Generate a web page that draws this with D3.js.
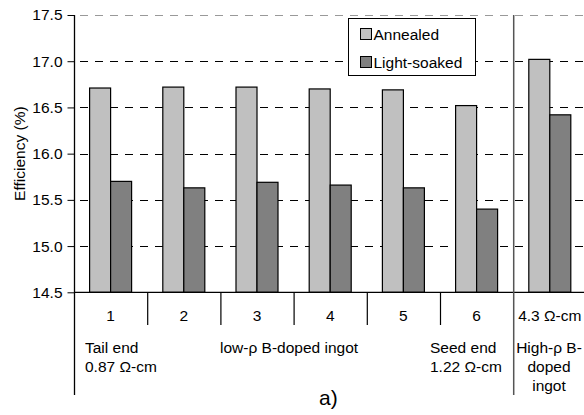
<!DOCTYPE html>
<html>
<head>
<meta charset="utf-8">
<script src="https://cdn.jsdelivr.net/npm/d3@7"></script>
<style>
  body { margin: 0; background: #fff; }
  text { font-family: "Liberation Sans", Arial, sans-serif; fill: #000; }
</style>
</head>
<body>
<div id="chart"></div>
<script>
var categories = ["1", "2", "3", "4", "5", "6", "4.3 Ω-cm"];
var annealed   = [16.71, 16.72, 16.72, 16.70, 16.69, 16.52, 17.02];
var lightSoaked = [15.70, 15.63, 15.69, 15.66, 15.63, 15.40, 16.42];
var seriesNames = ["Annealed", "Light-soaked"];
var yTicks = [14.5, 15.0, 15.5, 16.0, 16.5, 17.0, 17.5];

var W = 584, H = 415;
var mLeft = 74, mTop = 15, mBottom = 292.3;
var band = 73.2;
var mRight = mLeft + band * categories.length;
var fs = "15.5px";

var svg = d3.select("#chart").append("svg")
  .attr("width", W)
  .attr("height", H);

var y = d3.scaleLinear().domain([14.5, 17.5]).range([mBottom, mTop]);
var x = d3.scaleBand().domain(categories).range([mLeft, mRight]).paddingInner(0).paddingOuter(0);
var inner = d3.scaleBand().domain(seriesNames).range([15.6, 15.6 + 42]);
var colors = ["#c0c0c0", "#808080"];

// grid lines
svg.append("g").selectAll("line")
  .data(yTicks.filter(function(d){ return d > 14.5; }))
  .enter()
  .append("line")
    .attr("x1", mLeft + 6).attr("x2", mRight)
    .attr("y1", function(d){ return Math.round(y(d)) + 0.5; })
    .attr("y2", function(d){ return Math.round(y(d)) + 0.5; })
    .attr("stroke", function(d){ return d == 17.5 ? "#999" : "#000"; })
    .attr("stroke-width", 1)
    .attr("stroke-dasharray", "8,7");

// y axis
var yAxis = d3.axisLeft(y).tickValues(yTicks).tickFormat(d3.format(".1f")).tickSize(7).tickPadding(5);
var gy = svg.append("g")
  .attr("transform", "translate(" + (mLeft + 0.5) + ",0)")
  .call(yAxis);
gy.select(".domain").remove();
gy.selectAll("text").style("font-size", fs).attr("font-family", "Liberation Sans, Arial, sans-serif");
gy.selectAll("line").attr("stroke", "#000");

// bars
var data = categories.map(function(c, i){ return { cat: c, vals: [annealed[i], lightSoaked[i]] }; });
var groups = svg.append("g").selectAll("g")
  .data(data)
  .enter()
  .append("g")
    .attr("transform", function(d){ return "translate(" + x(d.cat) + ",0)"; });

groups.selectAll("rect")
  .data(function(d){ return d.vals.map(function(v, j){ return { name: seriesNames[j], v: v, j: j }; }); })
  .enter()
  .append("rect")
    .attr("x", function(d){ return inner(d.name); })
    .attr("width", inner.bandwidth())
    .attr("y", function(d){ return y(d.v); })
    .attr("height", function(d){ return mBottom - y(d.v); })
    .attr("fill", function(d){ return colors[d.j]; })
    .attr("stroke", "#000")
    .attr("stroke-width", 1.2);

// axes lines
svg.append("line")
  .attr("x1", mLeft + 0.5).attr("x2", mLeft + 0.5)
  .attr("y1", mTop).attr("y2", 395)
  .attr("stroke", "#000").attr("stroke-width", 1.3);

svg.append("line")
  .attr("x1", mLeft).attr("x2", mRight)
  .attr("y1", mBottom).attr("y2", mBottom)
  .attr("stroke", "#000").attr("stroke-width", 1.3);

// category separators below x axis
svg.append("g").selectAll("line")
  .data(categories.slice(1, 6))
  .enter()
  .append("line")
    .attr("x1", function(d){ return x(d) + 0.5; })
    .attr("x2", function(d){ return x(d) + 0.5; })
    .attr("y1", mBottom).attr("y2", 325)
    .attr("stroke", "#000").attr("stroke-width", 1.2);

// separator between ingots
var sepX = x(categories[6]) + 0.5;
svg.append("line")
  .attr("x1", sepX).attr("x2", sepX)
  .attr("y1", mTop).attr("y2", 395)
  .attr("stroke", "#555").attr("stroke-width", 1.5);

// category labels
svg.append("g").selectAll("text")
  .data(categories)
  .enter()
  .append("text")
    .attr("x", function(d){ return x(d) + x.bandwidth() / 2; })
    .attr("y", 321)
    .attr("text-anchor", "middle")
    .style("font-size", fs)
    .text(function(d){ return d; });

// annotations
function label(tx, ty, s, anchor) {
  svg.append("text")
    .attr("x", tx).attr("y", ty)
    .attr("text-anchor", anchor || "start")
    .style("font-size", fs)
    .text(s);
}
label(85, 353, "Tail end");
label(85, 372, "0.87 Ω-cm");
label(220, 353, "low-ρ B-doped ingot");
label(430, 353, "Seed end");
label(430, 372, "1.22 Ω-cm");
label(549, 353, "High-ρ B-", "middle");
label(549, 372, "doped", "middle");
label(549, 391, "ingot", "middle");

svg.append("text")
  .attr("x", 319).attr("y", 405)
  .style("font-size", "21px")
  .text("a)");

// y title
svg.append("text")
  .attr("transform", "translate(25," + ((mTop + mBottom) / 2) + ") rotate(-90)")
  .attr("text-anchor", "middle")
  .style("font-size", fs)
  .text("Efficiency (%)");

// legend
var lg = svg.append("g").attr("transform", "translate(348.5,18.5)");
lg.append("rect")
  .attr("width", 127).attr("height", 57)
  .attr("fill", "#fff").attr("stroke", "#000").attr("stroke-width", 1);
seriesNames.forEach(function(n, i){
  lg.append("rect")
    .attr("x", 12).attr("y", 10 + i * 28)
    .attr("width", 11).attr("height", 11)
    .attr("fill", colors[i]).attr("stroke", "#000").attr("stroke-width", 1);
  lg.append("text")
    .attr("x", 25).attr("y", 21 + i * 28)
    .style("font-size", fs)
    .text(n);
});
</script>
</body>
</html>
